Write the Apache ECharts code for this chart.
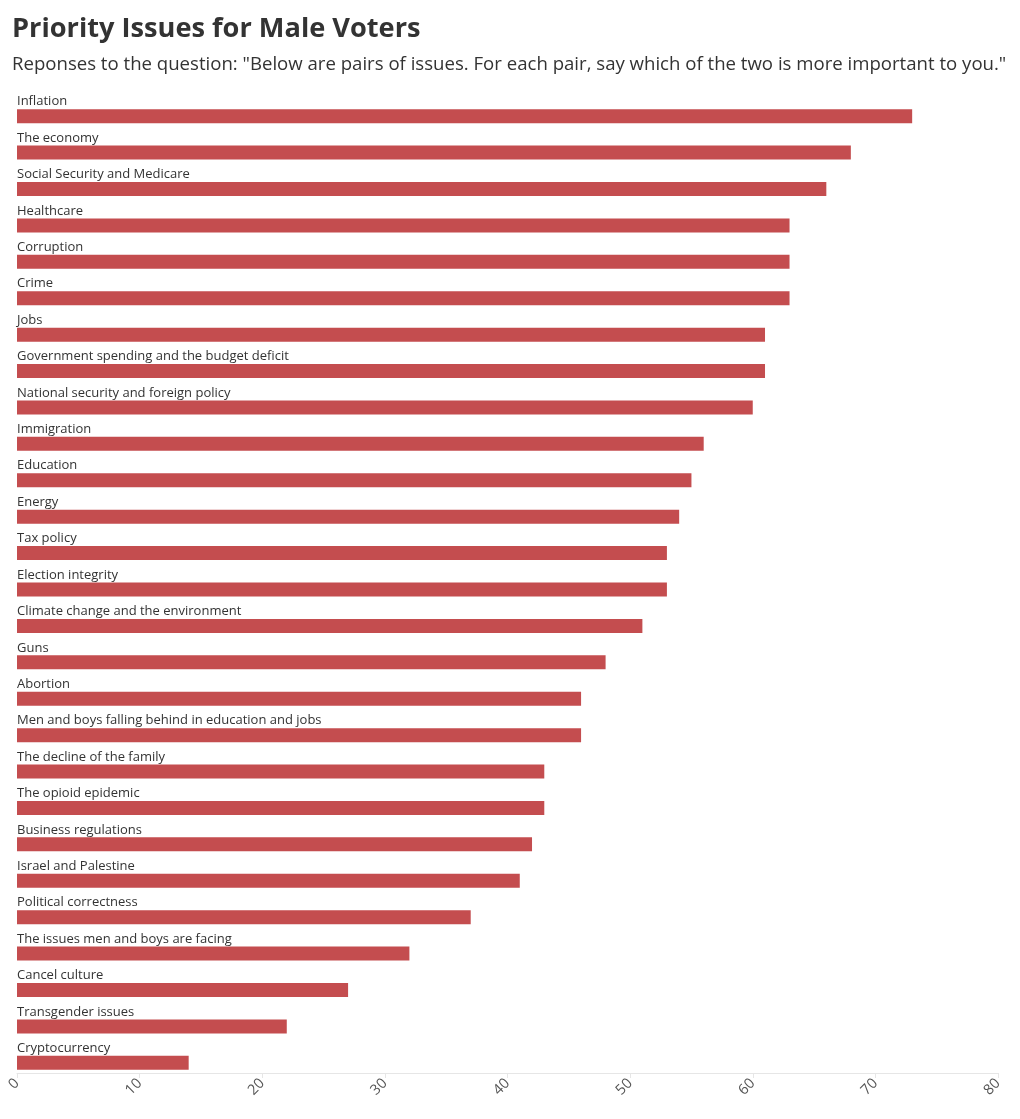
<!DOCTYPE html>
<html>
<head>
<meta charset="utf-8">
<script src="https://cdn.jsdelivr.net/npm/echarts@6/dist/echarts.min.js"></script>
<style>
html,body{margin:0;padding:0;background:#fff;}
#chart{width:1020px;height:1119px;}
</style>
</head>
<body>
<div id="chart"></div>
<script>
const categories = [
  "Inflation","The economy","Social Security and Medicare","Healthcare","Corruption","Crime","Jobs",
  "Government spending and the budget deficit","National security and foreign policy","Immigration",
  "Education","Energy","Tax policy","Election integrity","Climate change and the environment","Guns",
  "Abortion","Men and boys falling behind in education and jobs","The decline of the family",
  "The opioid epidemic","Business regulations","Israel and Palestine","Political correctness",
  "The issues men and boys are facing","Cancel culture","Transgender issues","Cryptocurrency"
];
const values = [73,68,66,63,63,63,61,61,60,56,55,54,53,53,51,48,46,46,43,43,42,41,37,32,27,22,14];
const xTicks = [0,10,20,30,40,50,60,70,80];

const FONT = "'Open Sans', sans-serif";
const chart = echarts.init(document.getElementById('chart'), null, {renderer:'canvas'});
chart.setOption({
  animation:false,
  title:{
    text:'Priority Issues for Male Voters',
    subtext:'Reponses to the question: "Below are pairs of issues. For each pair, say which of the two is more important to you."',
    left:7, top:11, itemGap:12,
    textStyle:{fontFamily:FONT,fontSize:27.2,fontWeight:'bold',color:'#333'},
    subtextStyle:{fontFamily:FONT,fontSize:18.6,color:'#333'}
  },
  grid:{left:17,right:22,top:98,height:983,containLabel:false},
  xAxis:{
    type:'value',min:xTicks[0],max:xTicks[xTicks.length-1],interval:10,offset:-8,
    axisLine:{show:true,lineStyle:{color:'#e6e6e6'}},
    axisTick:{show:true,length:5,lineStyle:{color:'#e6e6e6'}},
    splitLine:{show:false},
    axisLabel:{rotate:45,fontFamily:FONT,fontSize:14.5,color:'#555',margin:8}
  },
  yAxis:{
    type:'category',data:categories,inverse:true,
    axisLine:{show:false},axisTick:{show:false},axisLabel:{show:false}
  },
  series:[{
    type:'bar',data:values,barWidth:14,
    itemStyle:{color:'#c44d4f'},
    label:{show:true,position:[0,-1],align:'left',verticalAlign:'bottom',
      formatter:p=>categories[p.dataIndex],
      fontFamily:FONT,fontSize:13,color:'#333'}
  }]
});
</script>
</body>
</html>
